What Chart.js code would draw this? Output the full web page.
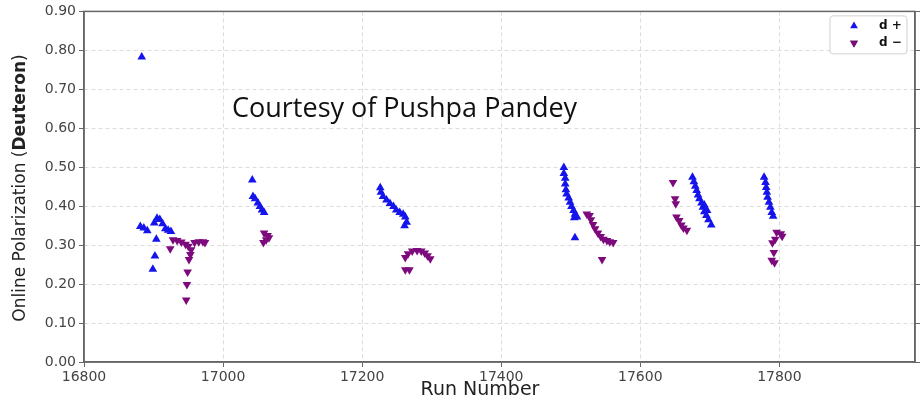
<!DOCTYPE html>
<html>
<head>
<meta charset="utf-8">
<script src="https://cdn.jsdelivr.net/npm/chart.js"></script>
<style>
  html, body { margin: 0; padding: 0; background: #fff; }
  canvas { display: block; }
</style>
</head>
<body>
<canvas id="chart" width="923" height="401"></canvas>
<script>
// run numbers / online polarization
const dPlusRun = [16883, 16881, 16886, 16891, 16901, 16905, 16909, 16913, 16917, 16921, 16925, 16904, 16902, 16899,
  17042, 17043, 17046, 17050, 17053, 17056, 17059,
  17226, 17227, 17230, 17235, 17240, 17245, 17249, 17254, 17259, 17262, 17264, 17261,
  17490, 17490, 17492, 17492, 17493, 17494, 17497, 17499, 17501, 17504, 17506, 17505, 17509, 17506,
  17675, 17677, 17679, 17681, 17683, 17685, 17688, 17690, 17692, 17695, 17698, 17702, 17692, 17696,
  17778, 17780, 17781, 17782, 17783, 17785, 17787, 17789, 17791];
const dPlusPol = [0.783, 0.348, 0.344, 0.337, 0.357, 0.369, 0.366, 0.355, 0.342, 0.338, 0.335, 0.315, 0.272, 0.238,
  0.467, 0.425, 0.419, 0.408, 0.399, 0.390, 0.384,
  0.447, 0.436, 0.425, 0.416, 0.407, 0.399, 0.390, 0.384, 0.379, 0.372, 0.359, 0.350,
  0.499, 0.484, 0.472, 0.457, 0.442, 0.431, 0.421, 0.410, 0.399, 0.389, 0.379, 0.370, 0.372, 0.319,
  0.474, 0.463, 0.451, 0.440, 0.429, 0.419, 0.408, 0.397, 0.386, 0.376, 0.365, 0.352, 0.403, 0.389,
  0.474, 0.461, 0.448, 0.436, 0.423, 0.410, 0.397, 0.384, 0.374];

const dMinusRun = [16924, 16928, 16934, 16940, 16946, 16950, 16954, 16959, 16965, 16971, 16974, 16953, 16951, 16949, 16948, 16947,
  17059, 17064, 17066, 17062, 17058,
  17262, 17266, 17272, 17279, 17285, 17290, 17294, 17298, 17262, 17268,
  17523, 17527, 17529, 17532, 17535, 17539, 17543, 17547, 17552, 17556, 17561, 17545,
  17647, 17650, 17651, 17652, 17656, 17659, 17662, 17667,
  17796, 17802, 17804, 17794, 17790, 17792, 17789, 17793];
const dMinusPol = [0.291, 0.314, 0.312, 0.308, 0.302, 0.297, 0.288, 0.307, 0.309, 0.309, 0.307, 0.276, 0.263, 0.231, 0.199, 0.159,
  0.331, 0.325, 0.319, 0.314, 0.307,
  0.268, 0.278, 0.285, 0.286, 0.285, 0.280, 0.273, 0.265, 0.237, 0.237,
  0.380, 0.376, 0.365, 0.353, 0.342, 0.331, 0.322, 0.315, 0.312, 0.309, 0.307, 0.263,
  0.461, 0.419, 0.406, 0.372, 0.363, 0.352, 0.344, 0.338,
  0.333, 0.329, 0.323, 0.315, 0.306, 0.281, 0.261, 0.255];

const seriesNames = ['d +', 'd \u2212'];
const xTicks = [16800, 17000, 17200, 17400, 17600, 17800];
const yTicks = [0, 0.1, 0.2, 0.3, 0.4, 0.5, 0.6, 0.7, 0.8, 0.9];

const BLUE = 'rgb(20, 20, 235)';
const PURPLE = 'rgb(125, 10, 125)';
const GRID = '#dcdcdc';
const AXIS = '#666';

function toPoints(xs, ys) {
  return xs.map(function(x, i) { return {x: x, y: ys[i]}; });
}

function setTicks(values) {
  return function(scale) {
    scale.ticks = values.map(function(v) { return {value: v}; });
  };
}

// frame on top/right plus the in-plot legend box and the extra texts
const framePlugin = {
  id: 'frame',
  afterDraw: function(chart) {
    const ctx = chart.ctx;
    const a = chart.chartArea;
    ctx.save();
    ctx.strokeStyle = AXIS;
    ctx.lineWidth = 1.5;
    ctx.strokeRect(a.left, a.top, a.right - a.left, a.bottom - a.top);

    // legend
    const bx = a.right - 85, by = a.top + 4.5, bw = 77, bh = 38;
    ctx.fillStyle = 'rgba(255,255,255,0.9)';
    ctx.strokeStyle = '#d0d0d0';
    ctx.lineWidth = 1;
    ctx.beginPath();
    ctx.roundRect(bx, by, bw, bh, 3);
    ctx.fill();
    ctx.stroke();
    chart.data.datasets.forEach(function(ds, i) {
      const y = by + 10 + i * 17;
      Chart.helpers.drawPoint(ctx, {pointStyle: 'triangle', rotation: ds.rotation || 0, radius: 4.5, borderWidth: 0}, bx + 24, y);
      ctx.fillStyle = ds.backgroundColor;
      ctx.fill();
      ctx.fillStyle = '#111';
      ctx.font = 'bold 12px "DejaVu Sans"';
      ctx.textBaseline = 'middle';
      ctx.textAlign = 'left';
      ctx.fillText(ds.label, bx + 49, y);
    });

    // y axis title with bold part
    ctx.save();
    ctx.translate(21, 188);
    ctx.rotate(-Math.PI / 2);
    ctx.fillStyle = '#222';
    ctx.textBaseline = 'middle';
    const parts = [['Online Polarization (', '17px "DejaVu Sans"'], ['Deuteron', 'bold 17px "DejaVu Sans"'], [')', '17px "DejaVu Sans"']];
    let total = 0;
    parts.forEach(function(p) { ctx.font = p[1]; total += ctx.measureText(p[0]).width; });
    let cx = -total / 2;
    ctx.textAlign = 'left';
    parts.forEach(function(p) { ctx.font = p[1]; ctx.fillText(p[0], cx, 0); cx += ctx.measureText(p[0]).width; });
    ctx.restore();

    // x axis title
    ctx.fillStyle = '#222';
    ctx.font = '19px "DejaVu Sans"';
    ctx.textAlign = 'center';
    ctx.textBaseline = 'middle';
    ctx.fillText('Run Number', 480, 390);

    // credit line
    ctx.fillStyle = '#111';
    ctx.font = '27px "Open Sans"';
    ctx.textAlign = 'left';
    ctx.textBaseline = 'alphabetic';
    ctx.fillText('Courtesy of Pushpa Pandey', 232, 117);
    ctx.restore();
  }
};

const ctx = document.getElementById('chart').getContext('2d');
const chart = new Chart(ctx, {
  type: 'scatter',
  data: {
    datasets: [
      {
        label: seriesNames[0],
        data: toPoints(dPlusRun, dPlusPol),
        pointStyle: 'triangle',
        rotation: 0,
        pointRadius: 5,
        borderWidth: 0,
        backgroundColor: BLUE,
        borderColor: BLUE,
      },
      {
        label: seriesNames[1],
        data: toPoints(dMinusRun, dMinusPol),
        pointStyle: 'triangle',
        rotation: 180,
        pointRadius: 5,
        borderWidth: 0,
        backgroundColor: PURPLE,
        borderColor: PURPLE,
      },
    ],
  },
  options: {
    responsive: false,
    animation: false,
    layout: {padding: {top: 10, right: 2, left: 0, bottom: 0}},
    plugins: {
      legend: {display: false},
      tooltip: {enabled: false},
    },
    scales: {
      x: {
        type: 'linear',
        min: 16800,
        max: 17995,
        afterBuildTicks: setTicks(xTicks),
        ticks: {
          color: '#444',
          font: {family: 'DejaVu Sans', size: 14},
          padding: 2,
          maxRotation: 0,
          callback: function(v) { return String(v); },
        },
        grid: {color: GRID, tickColor: AXIS, tickLength: 5, lineWidth: 1},
        border: {color: AXIS, width: 1.5, dash: [4, 3]},
        afterFit: function(scale) { scale.height = 39; },
      },
      y: {
        min: 0,
        max: 0.9,
        afterBuildTicks: setTicks(yTicks),
        ticks: {
          color: '#444',
          font: {family: 'DejaVu Sans', size: 14},
          padding: 3,
          callback: function(v) { return v.toFixed(2); },
        },
        grid: {color: GRID, tickColor: AXIS, tickLength: 5, lineWidth: 1},
        border: {color: AXIS, width: 1.5, dash: [4, 3]},
        afterFit: function(scale) { scale.width = 84; },
      },
      y2: {
        position: 'right',
        min: 0,
        max: 0.9,
        afterBuildTicks: setTicks(yTicks),
        ticks: {display: false},
        grid: {drawOnChartArea: false, color: AXIS, tickColor: AXIS, tickLength: 5},
        border: {color: AXIS, width: 1.5},
        afterFit: function(scale) { scale.width = 6; },
      },
    },
  },
  plugins: [framePlugin],
});
</script>
</body>
</html>
